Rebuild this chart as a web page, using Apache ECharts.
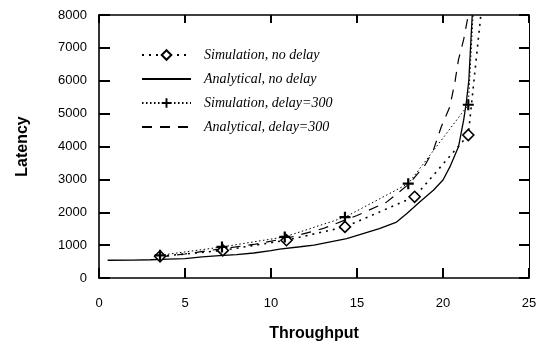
<!DOCTYPE html>
<html>
<head>
<meta charset="utf-8">
<script src="https://cdn.jsdelivr.net/npm/echarts@6/dist/echarts.min.js"></script>
<style>
  html, body { margin: 0; padding: 0; background: #fff; }
  #chart { width: 539px; height: 343px; }
</style>
</head>
<body>
<div id="chart"></div>
<script>
// values
const xTicks = [0, 5, 10, 15, 20, 25];
const yTicks = [0, 1000, 2000, 3000, 4000, 5000, 6000, 7000, 8000];

// simulation, no delay: markers, then the line runs on off the top
const simNoDelay = [[3.55, 660], [7.2, 840], [10.9, 1150], [14.3, 1555], [18.35, 2470], [21.47, 4350]];
const simNoDelayTail = [[22.2, 8000]];

const anaNoDelay = [
  [0.5, 540], [2, 545], [3, 555], [4, 575], [5, 590], [6, 640], [7, 680], [8, 710],
  [9, 760], [10, 830], [10.5, 880], [11.7, 950], [12.5, 1000], [14.4, 1200],
  [16.3, 1500], [17.3, 1700], [17.9, 1960], [18.66, 2320], [19.44, 2670],
  [20, 2980], [20.4, 3380], [20.9, 3990], [21.2, 4800], [21.35, 5320],
  [21.5, 6000], [21.6, 7000], [21.7, 8000]
];

const simDelay = [[3.55, 690], [7.15, 945], [10.8, 1250], [14.3, 1850], [17.98, 2870], [21.47, 5270]];
const simDelayTail = [[21.75, 8000]];

const anaDelay = [
  [3.5, 640], [5, 730], [7, 880], [9, 1020], [11, 1220], [13, 1500], [15, 1900],
  [16.7, 2300], [18, 2850], [18.95, 3430], [19.44, 3890], [19.9, 4600],
  [20.4, 5210], [20.7, 5980], [20.9, 6640], [21.2, 7250], [21.47, 8000]
];

const names = [
  'Simulation, no delay',
  'Analytical, no delay',
  'Simulation, delay=300',
  'Analytical, delay=300'
];

const X_MIN = xTicks[0], X_MAX = xTicks[xTicks.length - 1];
const Y_MIN = yTicks[0], Y_MAX = yTicks[yTicks.length - 1];

const withTail = (pts, tail) =>
  pts.concat(tail.map(p => ({ value: p, symbol: 'none' })));

const chart = echarts.init(document.getElementById('chart'), null, { renderer: 'canvas' });

const titleFont = () => ({ fontFamily: 'Liberation Sans', fontWeight: 'bold', fontSize: 16, color: '#000' });
const innerTick = (len) => ({ show: true, inside: true, length: len, lineStyle: { color: '#000', width: 2 } });

chart.setOption({
  animation: false,
  grid: { left: 99, right: 10, top: 15, bottom: 65, outerBoundsMode: 'none' },
  legend: {
    left: 141,
    top: 48,
    padding: 0,
    orient: 'vertical',
    itemWidth: 49,
    itemHeight: 12,
    itemGap: 10,
    textStyle: {
      fontFamily: 'Liberation Serif',
      fontStyle: 'italic',
      fontSize: 14,
      color: '#000',
      padding: [0, 0, 0, 8]
    },
    data: [
      { name: names[0] },
      { name: names[1], itemStyle: { opacity: 0 } },
      { name: names[2] },
      { name: names[3], itemStyle: { opacity: 0 } }
    ]
  },
  xAxis: [
    {
      type: 'value', min: X_MIN, max: X_MAX, interval: 5,
      name: 'Throughput', nameLocation: 'middle', nameGap: 48, nameTextStyle: titleFont(),
      axisLine: { show: true, onZero: false, lineStyle: { color: '#000', width: 1.6 } },
      axisTick: innerTick(10),
      axisLabel: { margin: 19, color: '#000', fontSize: 13 },
      splitLine: { show: false }
    },
    {
      type: 'value', min: X_MIN, max: X_MAX, interval: 5, position: 'top',
      axisLine: { show: true, onZero: false, lineStyle: { color: '#000', width: 1.6 } },
      axisTick: innerTick(8),
      axisLabel: { color: 'rgba(0,0,0,0)' },
      splitLine: { show: false }
    }
  ],
  yAxis: [
    {
      type: 'value', min: Y_MIN, max: Y_MAX, interval: 1000,
      name: 'Latency', nameLocation: 'middle', nameGap: 68, nameRotate: 90, nameTextStyle: titleFont(),
      axisLine: { show: true, onZero: false, lineStyle: { color: '#000', width: 1.6 } },
      axisTick: innerTick(11),
      axisLabel: { margin: 12, color: '#000', fontFamily: 'Liberation Sans', fontSize: 13, formatter: v => String(v) },
      splitLine: { show: false }
    },
    {
      type: 'value', min: Y_MIN, max: Y_MAX, interval: 1000, position: 'right',
      axisLine: { show: true, onZero: false, lineStyle: { color: '#000' } },
      axisTick: innerTick(10),
      axisLabel: { show: false },
      splitLine: { show: false }
    }
  ],
  series: [
    {
      name: names[0],
      type: 'line',
      data: withTail(simNoDelay, simNoDelayTail),
      symbol: 'diamond',
      symbolSize: 11,
      itemStyle: { color: '#fff', borderColor: '#000', borderWidth: 1.6 },
      lineStyle: { color: '#000', width: 1.6, type: [2, 5] }
    },
    {
      name: names[1],
      type: 'line',
      data: anaNoDelay,
      symbol: 'none',
      itemStyle: { color: '#000' },
      lineStyle: { color: '#000', width: 1.3 }
    },
    {
      name: names[2],
      type: 'line',
      data: withTail(simDelay, simDelayTail),
      symbol: 'path://M4,0 L6,0 L6,4 L10,4 L10,6 L6,6 L6,10 L4,10 L4,6 L0,6 L0,4 L4,4 Z',
      symbolSize: 11,
      itemStyle: { color: '#000', borderColor: '#000', borderWidth: 0 },
      lineStyle: { color: '#000', width: 1, type: [1.5, 2.5] }
    },
    {
      name: names[3],
      type: 'line',
      data: anaDelay,
      symbol: 'none',
      itemStyle: { color: '#000' },
      lineStyle: { color: '#000', width: 1.2, type: [10, 8] }
    }
  ]
});
</script>
</body>
</html>
